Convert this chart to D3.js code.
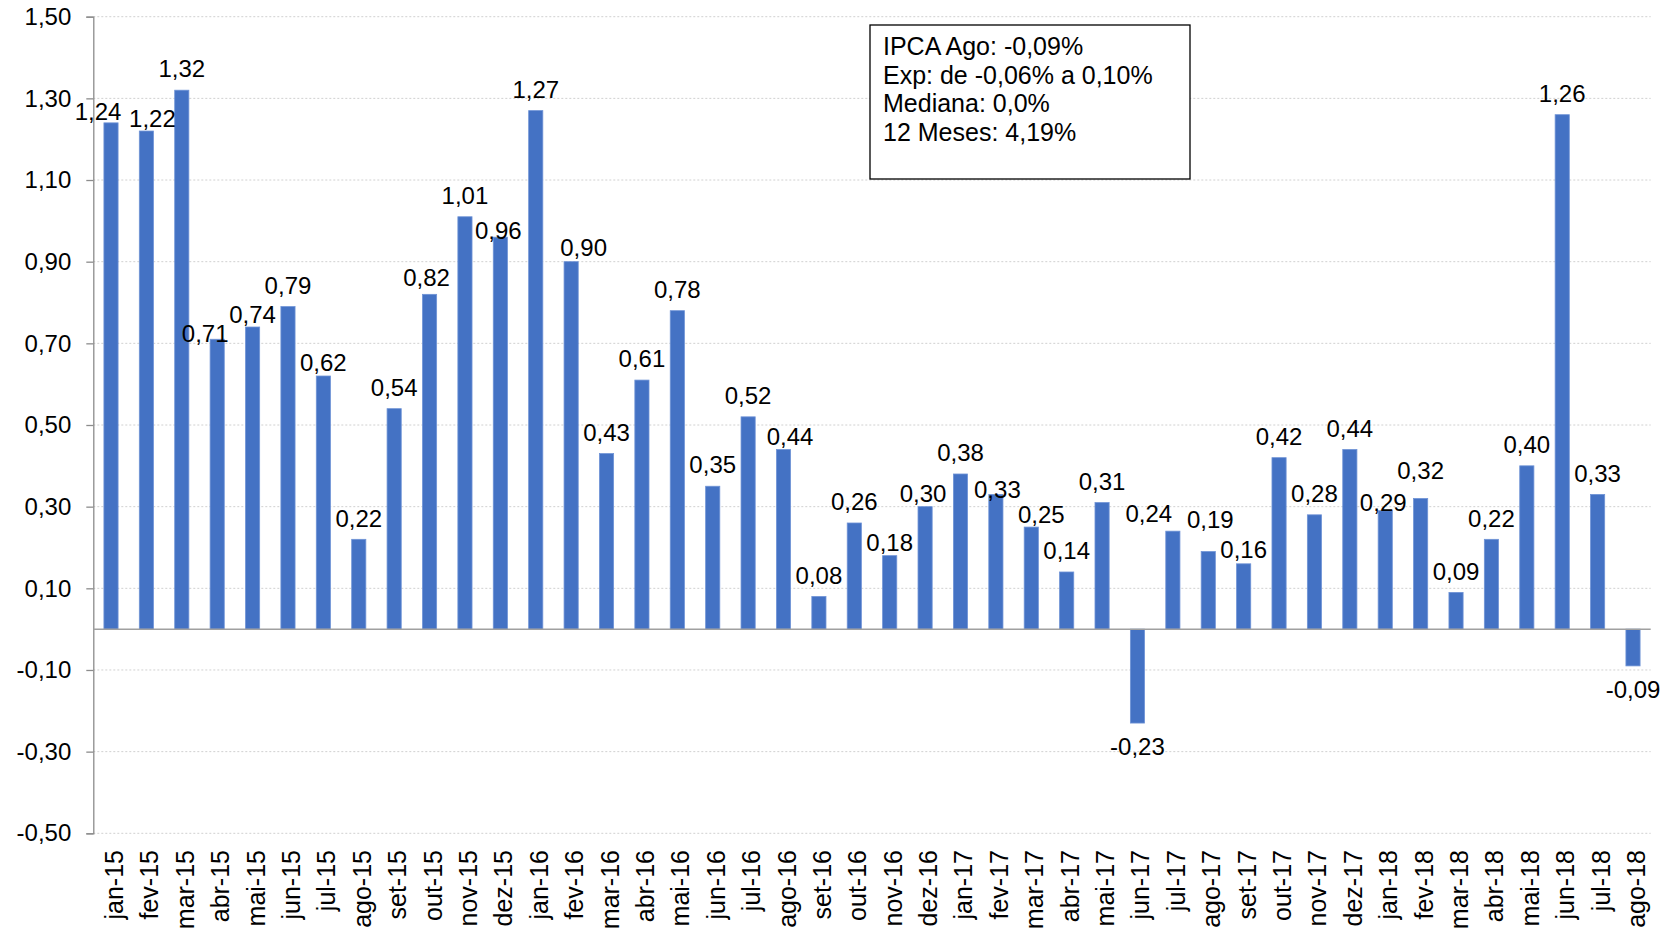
<!DOCTYPE html>
<html>
<head>
<meta charset="utf-8">
<script src="https://cdn.jsdelivr.net/npm/d3@7"></script>
<style>
  html, body { margin: 0; padding: 0; background: #fff; }
  svg { display: block; font-family: "Liberation Sans", Arial, sans-serif; }
</style>
</head>
<body>
<svg id="chart" width="1677" height="928"></svg>
<script>
// ---------- data ----------
const months = ["jan-15","fev-15","mar-15","abr-15","mai-15","jun-15","jul-15","ago-15","set-15","out-15","nov-15","dez-15",
  "jan-16","fev-16","mar-16","abr-16","mai-16","jun-16","jul-16","ago-16","set-16","out-16","nov-16","dez-16",
  "jan-17","fev-17","mar-17","abr-17","mai-17","jun-17","jul-17","ago-17","set-17","out-17","nov-17","dez-17",
  "jan-18","fev-18","mar-18","abr-18","mai-18","jun-18","jul-18","ago-18"];
const ipca = [1.24,1.22,1.32,0.71,0.74,0.79,0.62,0.22,0.54,0.82,1.01,0.96,
  1.27,0.90,0.43,0.61,0.78,0.35,0.52,0.44,0.08,0.26,0.18,0.30,
  0.38,0.33,0.25,0.14,0.31,-0.23,0.24,0.19,0.16,0.42,0.28,0.44,
  0.29,0.32,0.09,0.22,0.40,1.26,0.33,-0.09];
const yTicks = [-0.5,-0.3,-0.1,0.1,0.3,0.5,0.7,0.9,1.1,1.3,1.5];
const boxLines = ["IPCA Ago: -0,09%","Exp: de -0,06% a 0,10%","Mediana: 0,0%","12 Meses: 4,19%"];

// label nudges (manual label placement in original), style only
const nudge = {
  "jan-15":[-13,10], "fev-15":[6,9], "abr-15":[-12,16], "mai-15":[0,8.5], "jul-15":[0,8],
  "out-15":[-3,4], "dez-15":[-2,14.5], "fev-16":[12.5,7], "ago-16":[6.5,8.5], "nov-16":[0,8.5],
  "dez-16":[-2,8.5], "fev-17":[1.5,16], "mar-17":[10,8.5], "jul-17":[-24,3.5], "ago-17":[2,-10.5],
  "set-17":[0,7], "jan-18":[-2,13], "fev-18":[0,-6.5]
};

const fmt = v => d3.format(".2f")(v).replace(".", ",").replace("\u2212", "-");

const svg = d3.select("#chart");
const mLeft = 93.3, mRight = 1650.7, mTop = 16.7, mBottom = 833.3;

const x = d3.scaleBand().domain(months).range([mLeft, mRight]).paddingInner(0.6).paddingOuter(0.3);
const y = d3.scaleLinear().domain([-0.5, 1.5]).range([mBottom, mTop]);

// gridlines
svg.append("g").selectAll("line").data(yTicks).join("line")
  .attr("x1", mLeft).attr("x2", mRight)
  .attr("y1", d => y(d)).attr("y2", d => y(d))
  .attr("stroke", "#d0d0d0").attr("stroke-width", 1).attr("stroke-dasharray", "2,2");

// y axis
const yAxis = d3.axisLeft(y).tickValues(yTicks).tickFormat(fmt).tickSize(7).tickPadding(15);
const gy = svg.append("g").attr("transform", `translate(${mLeft},0)`).call(yAxis);
gy.select(".domain").attr("stroke", "#8c8c8c").attr("stroke-width", 1.3);
gy.selectAll(".tick line").attr("stroke", "#8c8c8c").attr("stroke-width", 1.3);
gy.selectAll(".tick text").attr("font-size", 24).attr("fill", "#000")
  .attr("font-family", "'Liberation Sans', Arial, sans-serif");

// bars
svg.append("g").selectAll("rect").data(ipca).join("rect")
  .attr("x", (d, i) => x(months[i]))
  .attr("width", x.bandwidth())
  .attr("y", d => y(Math.max(0, d)))
  .attr("height", d => Math.abs(y(d) - y(0)))
  .attr("fill", "#4472C4")
  .attr("stroke", "#6f93d6").attr("stroke-width", 0.8);

// zero axis line
svg.append("line").attr("x1", mLeft).attr("x2", mRight)
  .attr("y1", y(0)).attr("y2", y(0))
  .attr("stroke", "#a0a0a0").attr("stroke-width", 1.5);

// data labels
svg.append("g").selectAll("text").data(ipca).join("text")
  .attr("x", (d, i) => x(months[i]) + x.bandwidth() / 2 + (nudge[months[i]] ? nudge[months[i]][0] : 0))
  .attr("y", (d, i) => (d >= 0 ? y(d) - 12.8 : y(d) + 32) + (nudge[months[i]] ? nudge[months[i]][1] : 0))
  .attr("text-anchor", "middle")
  .attr("font-size", 24).attr("fill", "#000")
  .text(d => fmt(d));

// x labels (rotated)
svg.append("g").selectAll("text").data(months).join("text")
  .attr("transform", d => `translate(${x(d) + x.bandwidth() / 2 + 12},850) rotate(-90)`)
  .attr("text-anchor", "end")
  .attr("font-size", 25).attr("fill", "#000")
  .text(d => d);

// annotation box
const box = svg.append("g");
box.append("rect").attr("x", 870).attr("y", 25).attr("width", 320).attr("height", 154)
  .attr("fill", "#fff").attr("stroke", "#000").attr("stroke-width", 1.3);
box.selectAll("text").data(boxLines).join("text")
  .attr("x", 883).attr("y", (d, i) => 55 + i * 28.7)
  .attr("font-size", 25).attr("fill", "#000")
  .text(d => d);
</script>
</body>
</html>
